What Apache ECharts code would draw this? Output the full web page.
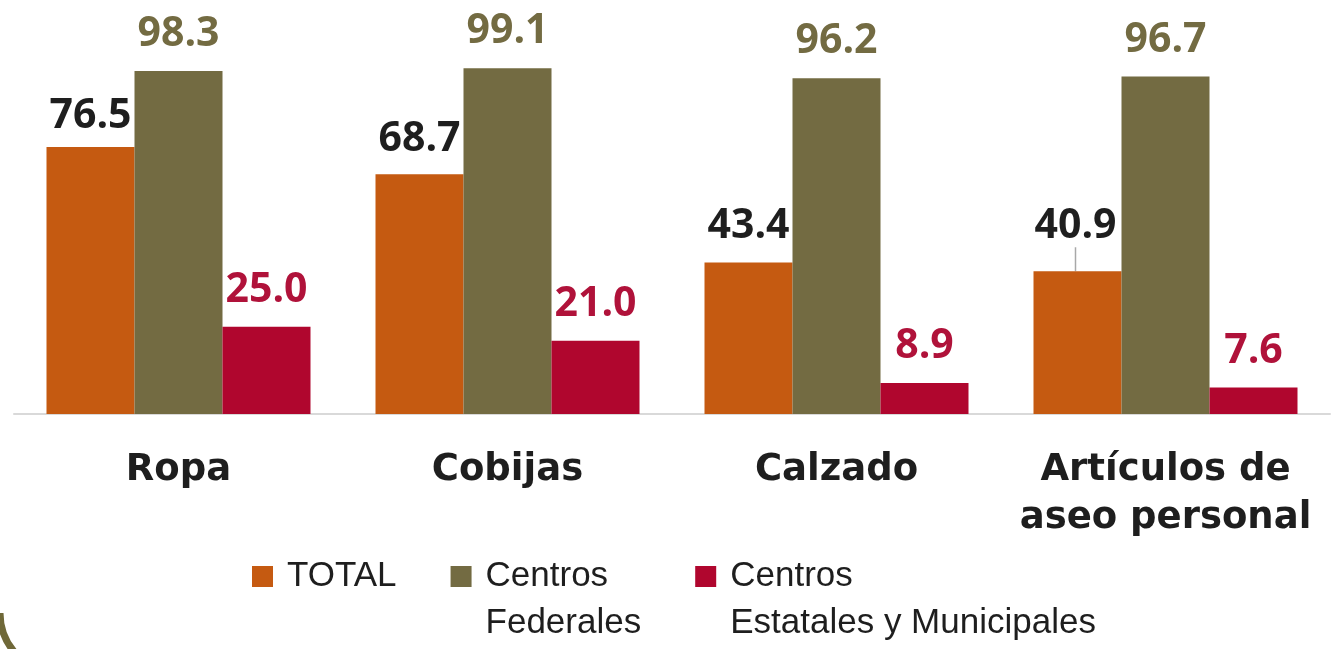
<!DOCTYPE html>
<html>
<head>
<meta charset="utf-8">
<script src="https://cdn.jsdelivr.net/npm/echarts@6/dist/echarts.min.js"></script>
<style>
  html, body { margin: 0; padding: 0; background: #ffffff; }
  #chart { width: 1339px; height: 649px; }
</style>
</head>
<body>
<div id="chart"></div>
<script>
// Categories and series values (percentages)
const categories = ['Ropa', 'Cobijas', 'Calzado', 'Artículos de\naseo personal'];
const seriesNames = ['TOTAL', 'Centros\nFederales', 'Centros\nEstatales y Municipales'];
const totalValues = [76.5, 68.7, 43.4, 40.9];
const federalValues = [98.3, 99.1, 96.2, 96.7];
const estatalValues = [25.0, 21.0, 8.9, 7.6];

const barColors = ['#C55A11', '#736B42', '#B0062E'];
const labelColors = ['#1E1E1E', '#736B42', '#B0123A'];

const chart = echarts.init(document.getElementById('chart'));

const valueLabel = (color, extra) => Object.assign({
  show: true,
  position: 'top',
  distance: 16,
  color: color,
  fontFamily: 'Open Sans',
  fontWeight: 'bold',
  fontSize: 41,
  formatter: (p) => p.value.toFixed(1)
}, extra || {});

// TOTAL labels sit slightly left of their bars; the last one is lifted with a leader line
const totalData = totalValues.map((v, i) => {
  const item = { value: v };
  if (i === 0) item.label = { distance: 10 };
  if (i === 1) item.label = { distance: 14 };
  if (i === 3) {
    item.label = { distance: 24 };
    item.labelLine = { show: true, length2: 0, lineStyle: { color: '#A8A8A8', width: 1.5 } };
  }
  return item;
});

const option = {
  animation: false,
  backgroundColor: '#ffffff',
  grid: { left: 14, right: 9, top: 65, bottom: 235, containLabel: false },
  xAxis: {
    type: 'category',
    data: categories,
    axisLine: { show: true, lineStyle: { color: '#D9D9D9', width: 2 } },
    axisTick: { show: false },
    axisLabel: {
      margin: 32,
      color: '#1E1E1E',
      fontFamily: 'DejaVu Sans',
      fontWeight: 'bold',
      fontSize: 37,
      lineHeight: 48,
      interval: 0
    }
  },
  yAxis: {
    type: 'value',
    min: 0,
    max: 100,
    show: false,
    splitLine: { show: false }
  },
  legend: {
    left: 252,
    top: 506,
    padding: 0,
    itemWidth: 21,
    itemHeight: 21,
    itemGap: 54,
    icon: 'rect',
    // two-line names get a blank first line so their first line sits beside the swatch
    formatter: (name) => (name.indexOf('\n') >= 0 ? ' \n' + name : name),
    textStyle: {
      fontFamily: 'Liberation Sans',
      fontSize: 35,
      lineHeight: 47,
      color: '#1E1E1E',
      padding: [0, 0, 0, 9]
    },
    data: seriesNames
  },
  series: [
    {
      name: seriesNames[0],
      type: 'bar',
      data: totalData,
      barWidth: 88,
      barGap: '0%',
      itemStyle: { color: barColors[0] },
      label: valueLabel(labelColors[0], { offset: [-6, 0] }),
      labelLayout: (p) => (p.dataIndex === 3 ? { dx: -2 } : {})
    },
    {
      name: seriesNames[1],
      type: 'bar',
      data: federalValues,
      barWidth: 88,
      barGap: '0%',
      itemStyle: { color: barColors[1] },
      label: valueLabel(labelColors[1])
    },
    {
      name: seriesNames[2],
      type: 'bar',
      data: estatalValues,
      barWidth: 88,
      barGap: '0%',
      itemStyle: { color: barColors[2] },
      label: valueLabel(labelColors[2])
    }
  ],
  graphic: [
    {
      // rounded frame corner peeking in at the lower left
      type: 'arc',
      silent: true,
      shape: { cx: 60, cy: 613, r: 60, startAngle: Math.PI / 2, endAngle: Math.PI },
      style: { stroke: '#6F6838', lineWidth: 7, fill: null }
    }
  ]
};

chart.setOption(option);
</script>
</body>
</html>
